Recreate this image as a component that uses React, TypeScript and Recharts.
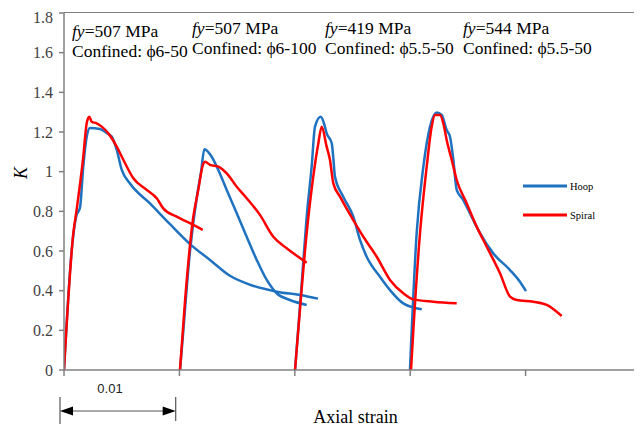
import { LineChart, Line, XAxis, YAxis } from 'recharts';

// strain (mm/mm) vs confinement factor K
const strainTicks = [0, 0.01, 0.02, 0.03, 0.04, 0.05];
const kTicks = [0, 0.2, 0.4, 0.6, 0.8, 1, 1.2, 1.4, 1.6, 1.8];

const hoop1 = [
  { s: 0, k: 0 }, { s: 0.00067, k: 0.605 }, { s: 0.00104, k: 0.77 }, { s: 0.00139, k: 0.82 },
  { s: 0.00167, k: 1.025 }, { s: 0.00197, k: 1.176 }, { s: 0.00225, k: 1.22 }, { s: 0.00312, k: 1.215 },
  { s: 0.0037, k: 1.195 }, { s: 0.00413, k: 1.177 }, { s: 0.00457, k: 1.11 }, { s: 0.005, k: 1.01 },
  { s: 0.00572, k: 0.94 }, { s: 0.00745, k: 0.84 }, { s: 0.00919, k: 0.735 }, { s: 0.01092, k: 0.635 },
  { s: 0.01265, k: 0.555 }, { s: 0.01438, k: 0.475 }, { s: 0.01612, k: 0.43 }, { s: 0.01846, k: 0.395 },
  { s: 0.02045, k: 0.378 }, { s: 0.02201, k: 0.36 },
];
const spiral1 = [
  { s: 0, k: 0 }, { s: 0.00081, k: 0.69 }, { s: 0.0011, k: 0.81 }, { s: 0.00167, k: 1.075 },
  { s: 0.00197, k: 1.245 }, { s: 0.00219, k: 1.277 }, { s: 0.0024, k: 1.252 }, { s: 0.00283, k: 1.244 },
  { s: 0.00327, k: 1.227 }, { s: 0.00384, k: 1.193 }, { s: 0.00457, k: 1.126 }, { s: 0.00514, k: 1.06 },
  { s: 0.00601, k: 0.967 }, { s: 0.00717, k: 0.908 }, { s: 0.00803, k: 0.866 }, { s: 0.0086, k: 0.815 },
  { s: 0.00977, k: 0.773 }, { s: 0.01092, k: 0.74 }, { s: 0.01202, k: 0.706 },
];
const hoop2 = [
  { s: 0.01005, k: 0 }, { s: 0.0102, k: 0.1 }, { s: 0.01092, k: 0.6 }, { s: 0.01153, k: 0.88 },
  { s: 0.01188, k: 1.0 }, { s: 0.01216, k: 1.113 }, { s: 0.0128, k: 1.075 }, { s: 0.01337, k: 1.008 },
  { s: 0.0141, k: 0.908 }, { s: 0.01497, k: 0.79 }, { s: 0.01583, k: 0.672 }, { s: 0.0167, k: 0.555 },
  { s: 0.01757, k: 0.454 }, { s: 0.01843, k: 0.387 }, { s: 0.01958, k: 0.353 }, { s: 0.02103, k: 0.328 },
];
const spiral2 = [
  { s: 0.01005, k: 0 }, { s: 0.01049, k: 0.35 }, { s: 0.0112, k: 0.77 }, { s: 0.01161, k: 0.9 },
  { s: 0.01207, k: 1.04 }, { s: 0.01222, k: 1.05 }, { s: 0.01265, k: 1.034 }, { s: 0.01337, k: 1.025 },
  { s: 0.0141, k: 0.991 }, { s: 0.01497, k: 0.924 }, { s: 0.01583, k: 0.866 }, { s: 0.01698, k: 0.782 },
  { s: 0.01814, k: 0.672 }, { s: 0.0193, k: 0.614 }, { s: 0.02103, k: 0.541 },
];
const hoop3 = [
  { s: 0.02002, k: 0 }, { s: 0.0206, k: 0.437 }, { s: 0.02103, k: 0.773 }, { s: 0.02146, k: 1.025 },
  { s: 0.02175, k: 1.227 }, { s: 0.02224, k: 1.277 }, { s: 0.02253, k: 1.244 }, { s: 0.02276, k: 1.193 },
  { s: 0.0232, k: 1.143 }, { s: 0.02334, k: 1.067 }, { s: 0.02348, k: 0.975 }, { s: 0.0242, k: 0.874 },
  { s: 0.02507, k: 0.773 }, { s: 0.02565, k: 0.656 }, { s: 0.02623, k: 0.571 }, { s: 0.02738, k: 0.47 },
  { s: 0.02825, k: 0.403 }, { s: 0.0294, k: 0.336 }, { s: 0.031, k: 0.306 },
];
const spiral3 = [
  { s: 0.02002, k: 0 }, { s: 0.0203, k: 0.2 }, { s: 0.02103, k: 0.69 }, { s: 0.0216, k: 0.975 },
  { s: 0.02204, k: 1.143 }, { s: 0.02233, k: 1.227 }, { s: 0.02276, k: 1.126 }, { s: 0.02305, k: 1.059 },
  { s: 0.02334, k: 0.941 }, { s: 0.02392, k: 0.874 }, { s: 0.02507, k: 0.756 }, { s: 0.02594, k: 0.672 },
  { s: 0.0271, k: 0.571 }, { s: 0.02825, k: 0.454 }, { s: 0.0294, k: 0.387 }, { s: 0.03027, k: 0.356 },
  { s: 0.032, k: 0.344 }, { s: 0.03403, k: 0.336 },
];
const hoop4 = [
  { s: 0.02998, k: 0 }, { s: 0.03056, k: 0.69 }, { s: 0.03114, k: 1.025 }, { s: 0.03172, k: 1.227 },
  { s: 0.0323, k: 1.298 }, { s: 0.03273, k: 1.286 }, { s: 0.03316, k: 1.21 }, { s: 0.03345, k: 1.176 },
  { s: 0.03374, k: 1.059 }, { s: 0.03403, k: 0.908 }, { s: 0.0346, k: 0.857 }, { s: 0.03518, k: 0.79 },
  { s: 0.03605, k: 0.69 }, { s: 0.0372, k: 0.588 }, { s: 0.03865, k: 0.504 }, { s: 0.03951, k: 0.445 },
  { s: 0.04003, k: 0.398 },
];
const spiral4 = [
  { s: 0.03007, k: 0 }, { s: 0.03027, k: 0.2 }, { s: 0.03085, k: 0.69 }, { s: 0.03143, k: 1.025 },
  { s: 0.03186, k: 1.227 }, { s: 0.03215, k: 1.286 }, { s: 0.03258, k: 1.286 }, { s: 0.03287, k: 1.244 },
  { s: 0.03316, k: 1.16 }, { s: 0.0336, k: 1.059 }, { s: 0.03403, k: 0.958 }, { s: 0.0349, k: 0.84 },
  { s: 0.03576, k: 0.723 }, { s: 0.03663, k: 0.622 }, { s: 0.03778, k: 0.488 }, { s: 0.03865, k: 0.37 },
  { s: 0.03923, k: 0.353 }, { s: 0.04067, k: 0.344 }, { s: 0.04183, k: 0.328 }, { s: 0.04313, k: 0.272 },
];

const hoopCurves = [hoop1, hoop2, hoop3, hoop4];
const spiralCurves = [spiral1, spiral2, spiral3, spiral4];

const specimens = [
  { fy: '507', bar: 'ϕ6-50' },
  { fy: '507', bar: 'ϕ6-100' },
  { fy: '419', bar: 'ϕ5.5-50' },
  { fy: '544', bar: 'ϕ5.5-50' },
];

const BLUE = '#1f72c0';
const RED = '#ff0000';
const AXIS = '#808080';
const SERIF = '"Liberation Serif", "Times New Roman", serif';

// 8 + H + 8 stays inside the 432px window
const W = 634;
const H = 416;
const M = { top: 5, right: 1, left: 0, bottom: 24 };
const Y_W = 56;
const X_H = 30;

// label anchor spots (page px)
const labelSpots = [
  { x: 72, y: 37 },
  { x: 192, y: 34 },
  { x: 325, y: 34 },
  { x: 463, y: 34 },
];

export default function App() {
  const plotW = W - M.left - M.right - Y_W;
  const plotH = H - M.top - M.bottom - X_H;
  return (
    <div style={{ position: 'relative', width: W, height: H, fontFamily: SERIF }}>
      <style>{`.recharts-cartesian-axis-tick-value { font-family: ${SERIF}; } body { overflow: hidden; }`}</style>
      <LineChart width={W} height={H} margin={M} style={{ fontFamily: SERIF }}>
        <XAxis
          dataKey="s"
          type="number"
          domain={[0, 0.05]}
          ticks={strainTicks}
          tickFormatter={() => ''}
          height={X_H}
          axisLine={{ stroke: AXIS, strokeWidth: 1.5 }}
          tickLine={{ stroke: AXIS, strokeWidth: 1.5 }}
          tickSize={6}
          allowDataOverflow
        />
        <YAxis
          dataKey="k"
          type="number"
          domain={[0, 1.8]}
          ticks={kTicks}
          width={Y_W}
          tickSize={5}
          tickMargin={6}
          tickFormatter={(v: number) => String(Math.round(v * 10) / 10)}
          tick={{ fill: '#404040', fontSize: 16, fontFamily: SERIF }}
          axisLine={{ stroke: AXIS, strokeWidth: 1.5 }}
          tickLine={{ stroke: AXIS, strokeWidth: 1.5 }}
          allowDataOverflow
        />
        {hoopCurves.map((d, i) => (
          <Line key={'h' + i} data={d} dataKey="k" type="monotone" stroke={BLUE} strokeWidth={2.5}
            dot={false} isAnimationActive={false} />
        ))}
        {spiralCurves.map((d, i) => (
          <Line key={'s' + i} data={d} dataKey="k" type="monotone" stroke={RED} strokeWidth={2.5}
            dot={false} isAnimationActive={false} />
        ))}
      </LineChart>

      {/* plot frame: top and right edges */}
      <div
        style={{
          position: 'absolute',
          left: M.left + Y_W,
          top: M.top - 0.75,
          width: plotW + 0.75,
          height: plotH + 0.75,
          borderTop: `1.5px solid ${AXIS}`,
          borderRight: `1.5px solid ${AXIS}`,
          boxSizing: 'border-box',
          pointerEvents: 'none',
        }}
      />

      {/* annotations drawn in page coordinates */}
      <svg width={642} height={432} style={{ position: 'absolute', left: -8, top: -8, pointerEvents: 'none' }}>
        {specimens.map((sp, i) => (
          <g key={i} fontFamily={SERIF} fontSize={17.5} fill="#000">
            <text x={labelSpots[i].x} y={labelSpots[i].y}>
              <tspan fontStyle="italic">fy</tspan>={sp.fy} MPa
            </text>
            <text x={labelSpots[i].x} y={labelSpots[i].y + 20.3}>Confined: {sp.bar}</text>
          </g>
        ))}

        <text x={21} y={173} transform="rotate(-90 21 173)" textAnchor="middle" dominantBaseline="central"
          fontFamily={SERIF} fontStyle="italic" fontSize={18}>K</text>

        <text x={355.5} y={423} textAnchor="middle" fontFamily={SERIF} fontSize={18}>Axial strain</text>

        {/* legend */}
        <line x1={523} y1={186} x2={567} y2={186} stroke={BLUE} strokeWidth={3} />
        <text x={570} y={189.5} fontFamily={SERIF} fontSize={10.5}>Hoop</text>
        <line x1={523} y1={215} x2={567} y2={215} stroke={RED} strokeWidth={3} />
        <text x={570} y={218.5} fontFamily={SERIF} fontSize={10.5}>Spiral</text>

        {/* 0.01 dimension */}
        <text x={110} y={393} textAnchor="middle" fontFamily='"Liberation Sans", Arial, sans-serif' fontSize={13} fill="#222">0.01</text>
        <line x1={60} y1={397} x2={60} y2={425} stroke="#555" strokeWidth={1.2} />
        <line x1={175.7} y1={397} x2={175.7} y2={421} stroke="#555" strokeWidth={1.2} />
        <line x1={66} y1={411} x2={170} y2={411} stroke="#555" strokeWidth={1.2} />
        <polygon points="60,411 73,406.5 73,415.5" fill="#000" />
        <polygon points="175.7,411 162.7,406.5 162.7,415.5" fill="#000" />
      </svg>
    </div>
  );
}
